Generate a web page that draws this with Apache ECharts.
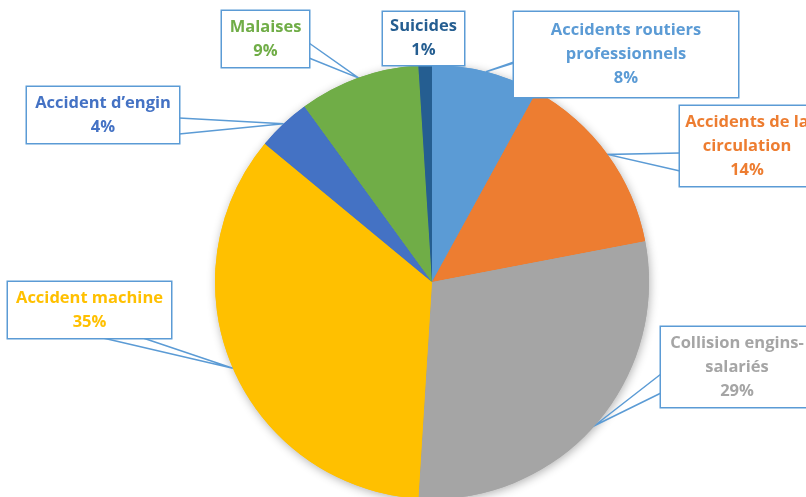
<!DOCTYPE html>
<html>
<head>
<meta charset="utf-8">
<script src="https://cdn.jsdelivr.net/npm/echarts@6/dist/echarts.min.js"></script>
<style>
  html, body { margin: 0; padding: 0; background: #ffffff; }
  #chart { width: 806px; height: 497px; }
</style>
</head>
<body>
<div id="chart"></div>
<script>
// Causes of workplace accidents, share of cases (%)
const categories = [
  'Accidents routiers\nprofessionnels',
  'Accidents de la\ncirculation',
  'Collision engins-\nsalariés',
  'Accident machine',
  'Accident d\u2019engin',
  'Malaises',
  'Suicides'
];
const shares = [8, 14, 29, 35, 4, 9, 1];
const sliceColors = ['#5B9BD5', '#ED7D31', '#A5A5A5', '#FFC000', '#4472C4', '#70AD47', '#255E91'];

// Callout boxes: centre, size, and the two points where the pointer leaves the box
const calloutBoxes = [
  { cx: 626,   cy: 54.5, w: 224, h: 85, base: [[514, 62], [514, 63]] },
  { cx: 747,   cy: 146,  w: 134, h: 80, base: [[680, 153], [680, 171]] },
  { cx: 737,   cy: 367,  w: 152, h: 80, base: [[661, 374], [661, 393]] },
  { cx: 89.5,  cy: 310,  w: 163, h: 56, base: [[103, 338], [143, 338]] },
  { cx: 103,   cy: 115,  w: 152, h: 56, base: [[179, 118], [179, 134]] },
  { cx: 265.5, cy: 39,   w: 87,  h: 56, base: [[309, 43], [309, 58]] },
  { cx: 423.5, cy: 38.5, w: 81,  h: 53, base: null }
];

const LINE_H = 24;
const calloutBorder = '#5B9BD5';

const pieData = categories.map(function (name, i) {
  const box = calloutBoxes[i];
  const lines = name.split('\n').length + 1;
  const padV = Math.max(0, (box.h - lines * LINE_H) / 2);
  return {
    name: name,
    value: shares[i],
    itemStyle: { color: sliceColors[i] },
    label: {
      color: sliceColors[i],
      width: box.w,
      padding: [padV, 0, padV, 0]
    },
    labelLine: { show: !!box.base }
  };
});

const shadowData = categories.map(function (name, i) {
  return { name: name, value: shares[i], itemStyle: { color: sliceColors[i] } };
});

const chart = echarts.init(document.getElementById('chart'), null, { renderer: 'canvas' });

chart.setOption({
  animation: false,
  backgroundColor: '#ffffff',
  series: [
    {
      // soft drop shadow under the disc
      type: 'pie',
      silent: true,
      z: 1,
      center: [432, 282],
      radius: 217,
      startAngle: 90,
      clockwise: true,
      data: shadowData,
      label: { show: false },
      labelLine: { show: false },
      itemStyle: {
        borderWidth: 0,
        shadowBlur: 10,
        shadowOffsetX: 1,
        shadowOffsetY: 2,
        shadowColor: 'rgba(0,0,0,0.3)'
      }
    },
    {
      type: 'pie',
      z: 2,
      center: [432, 282],
      radius: 217,
      startAngle: 90,
      clockwise: true,
      avoidLabelOverlap: false,
      data: pieData,
      itemStyle: { borderWidth: 0 },
      label: {
        show: true,
        position: 'outside',
        formatter: '{b}\n{d}%',
        fontFamily: '"Open Sans", sans-serif',
        fontWeight: 'bold',
        fontSize: 16.5,
        lineHeight: LINE_H,
        align: 'center',
        overflow: 'none',
        backgroundColor: '#ffffff',
        borderColor: calloutBorder,
        borderWidth: 1.5
      },
      labelLine: {
        show: true,
        smooth: false,
        length: 20,
        length2: 20,
        lineStyle: { color: calloutBorder, width: 1.5 }
      },
      labelLayout: function (p) {
        const box = calloutBoxes[p.dataIndex];
        const out = { x: box.cx, y: box.cy, align: 'center', verticalAlign: 'middle' };
        const tip = p.labelLinePoints && p.labelLinePoints[0];
        if (tip && box.base) {
          out.labelLinePoints = [box.base[0], tip, box.base[1]];
        }
        return out;
      }
    }
  ]
});
</script>
</body>
</html>
